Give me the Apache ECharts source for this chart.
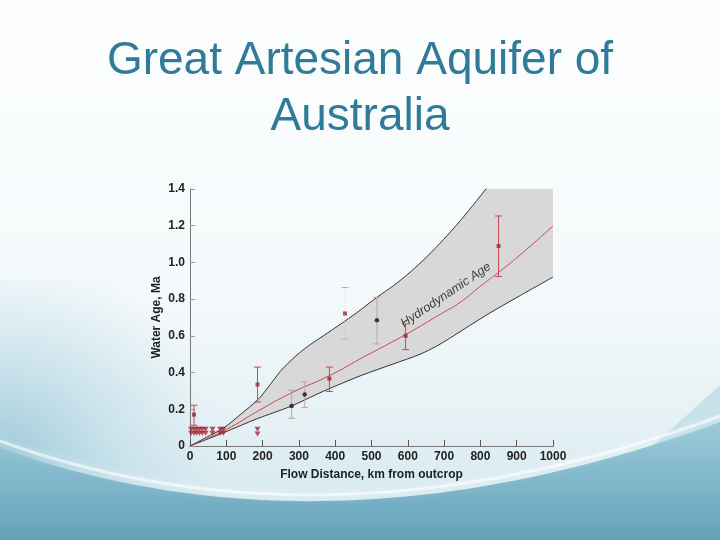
<!DOCTYPE html>
<html><head><meta charset="utf-8">
<script src="https://cdn.jsdelivr.net/npm/echarts@6/dist/echarts.min.js"></script>
<style>html,body{margin:0;padding:0;background:#fff;}#c{width:720px;height:540px;}</style>
</head><body><div id="c"></div>
<script>
// ---- data ----
const titleText = 'Great Artesian Aquifer of\nAustralia';
const xName = 'Flow Distance, km from outcrop';
const yName = 'Water Age, Ma';
const xTickLabels = ['0','100','200','300','400','500','600','700','800','900','1000'];
const yTickLabels = ['0','0.2','0.4','0.6','0.8','1.0','1.2','1.4'];
const bandLabel = 'Hydrodynamic Age';
const bandLabelPos = [705, 0.822];

// envelope (upper and lower bounds) and hydrodynamic age curve
const upperX = [0, 46, 92, 138, 188, 220, 248, 276, 303, 331, 367, 414, 460, 515, 561, 607, 653, 698, 744, 790, 815, 850];
const upperY = [0, 0.048, 0.097, 0.17, 0.254, 0.332, 0.405, 0.462, 0.51, 0.552, 0.60, 0.663, 0.727, 0.81, 0.874, 0.948, 1.032, 1.124, 1.226, 1.337, 1.40, 1.48];
const lowerX = [0, 92, 184, 276, 367, 470, 560, 634, 680, 726, 818, 910, 1000];
const lowerY = [0, 0.072, 0.148, 0.215, 0.298, 0.383, 0.447, 0.50, 0.545, 0.60, 0.715, 0.82, 0.92];
const ageX = [0, 100, 186, 280, 384, 470, 593, 700, 744, 800, 846, 900, 1000];
const ageY = [0, 0.09, 0.189, 0.29, 0.383, 0.476, 0.606, 0.73, 0.782, 0.87, 0.94, 1.025, 1.198];

// measured ages (red = one method, black = another)
const redX = [11, 186, 384, 427, 594, 850];
const redY = [0.171, 0.335, 0.367, 0.722, 0.600, 1.089];
const redErrX = [11, 186, 384, 594, 850];
const redErrLo = [0.113, 0.240, 0.297, 0.525, 0.923];
const redErrHi = [0.222, 0.430, 0.430, 0.665, 1.253];
const faintErrX = [427];
const faintErrLo = [0.582];
const faintErrHi = [0.863];
const blackX = [280, 316, 515];
const blackY = [0.218, 0.280, 0.685];
const greyErrX = [280];
const greyErrLo = [0.151];
const greyErrHi = [0.304];
const pinkErrX = [316, 515];
const pinkErrLo = [0.209, 0.556];
const pinkErrHi = [0.349, 0.810];

// upper-limit markers near the recharge area
const limitX = [3, 11, 18, 26, 34, 43, 62, 83, 92, 186];
const limitTopY = [0.091, 0.091, 0.091, 0.091, 0.091, 0.091, 0.091, 0.091, 0.091, 0.091];
const limitBotY = [0.069, 0.069, 0.069, 0.069, 0.069, 0.069, 0.069, 0.069, 0.069, 0.066];

// ---- build ----
const zip = (a, b) => a.map((v, i) => [v, b[i]]);
const zip3 = (a, b, c) => a.map((v, i) => [v, b[i], c[i]]);
const FONT = '"Liberation Sans", Arial, sans-serif';

// decorative slide background helper: sample a quadratic curve
function quad(p0, c, p1, n) {
  const pts = [];
  for (let i = 0; i <= n; i++) {
    const t = i / n, u = 1 - t;
    pts.push([u*u*p0[0] + 2*u*t*c[0] + t*t*p1[0], u*u*p0[1] + 2*u*t*c[1] + t*t*p1[1]]);
  }
  return pts;
}

function errRender(params, api) {
  const x = api.value(0), lo = api.value(1), hi = api.value(2);
  const p1 = api.coord([x, lo]), p2 = api.coord([x, hi]);
  const c = api.visual('color');
  const w = 3.5;
  return { type: 'group', children: [
    { type: 'line', shape: { x1: p1[0], y1: p1[1], x2: p2[0], y2: p2[1] }, style: { stroke: c, lineWidth: 1 } },
    { type: 'line', shape: { x1: p1[0]-w, y1: p1[1], x2: p1[0]+w, y2: p1[1] }, style: { stroke: c, lineWidth: 1 } },
    { type: 'line', shape: { x1: p2[0]-w, y1: p2[1], x2: p2[0]+w, y2: p2[1] }, style: { stroke: c, lineWidth: 1 } }
  ]};
}
function faintRender(params, api) {
  const x = api.value(0), lo = api.value(1), hi = api.value(2);
  const p1 = api.coord([x, lo]), p2 = api.coord([x, hi]);
  const w = 3.5;
  return { type: 'group', children: [
    { type: 'line', shape: { x1: p1[0], y1: p1[1], x2: p2[0], y2: p2[1] }, style: { stroke: 'rgba(200,150,160,0.15)', lineWidth: 1 } },
    { type: 'line', shape: { x1: p1[0]-w, y1: p1[1], x2: p1[0]+w, y2: p1[1] }, style: { stroke: '#c4b4b7', lineWidth: 1 } },
    { type: 'line', shape: { x1: p2[0]-w, y1: p2[1], x2: p2[0]+w, y2: p2[1] }, style: { stroke: '#c9a3a9', lineWidth: 1 } }
  ]};
}
function bandRender(params, api) {
  const up = upperX.map((x, i) => api.coord([x, upperY[i]]));
  const lastUp = upperY[upperY.length - 1];
  up.push(api.coord([lowerX[lowerX.length - 1], lastUp]));
  const low = lowerX.map((x, i) => api.coord([x, lowerY[i]])).reverse();
  let pts = up.concat(low);
  const cs = params.coordSys;
  pts = pts.map(p => [Math.min(Math.max(p[0], cs.x), cs.x + cs.width), Math.min(Math.max(p[1], cs.y), cs.y + cs.height)]);
  return { type: 'polygon', shape: { points: pts }, style: { fill: '#d8d8d8' } };
}

const rightShade = quad([540, 540], [650, 450], [720, 385], 30).concat([[720, 540]]);
const bottomWave = quad([0, 448], [330, 566], [720, 422], 60).concat([[720, 540], [0, 540]]);
const crest = quad([0, 441], [330, 560], [720, 416], 60);

const chart = echarts.init(document.getElementById('c'), null, { renderer: 'canvas' });
chart.setOption({
  animation: false,
  backgroundColor: {
    type: 'linear', x: 0, y: 0, x2: 0, y2: 1,
    colorStops: [
      { offset: 0, color: '#fdfefe' }, { offset: 0.55, color: '#f4f9fb' },
      { offset: 0.78, color: '#e5f1f5' }, { offset: 1, color: '#cfe5ed' }
    ]
  },
  graphic: [
    { type: 'rect', z: -10, silent: true, shape: { x: 0, y: 280, width: 460, height: 260 },
      style: { fill: { type: 'radial', x: 0, y: 0.72, r: 0.85, colorStops: [
        { offset: 0, color: 'rgba(140,192,210,0.85)' }, { offset: 0.5, color: 'rgba(160,204,220,0.4)' },
        { offset: 1, color: 'rgba(180,215,228,0)' }] } } },
    { type: 'polygon', z: -10, silent: true, shape: { points: rightShade },
      style: { fill: 'rgba(160,205,220,0.45)' } },
    { type: 'polygon', z: -9, silent: true, shape: { points: bottomWave },
      style: { fill: { type: 'linear', x: 0, y: 0, x2: 0, y2: 1, colorStops: [
        { offset: 0, color: '#9ccad9' }, { offset: 0.5, color: '#80b7cb' }, { offset: 1, color: '#64a2ba' }] } } },
    { type: 'polyline', z: -8, silent: true, shape: { points: crest },
      style: { stroke: 'rgba(255,255,255,0.6)', lineWidth: 3, shadowBlur: 8, shadowColor: 'rgba(255,255,255,0.8)' } }
  ],
  title: {
    text: titleText, left: 'center', top: 28,
    textStyle: { fontFamily: FONT, fontSize: 46, fontWeight: 'normal', color: '#2f7b99', lineHeight: 56 }
  },
  grid: { left: 190, right: 167, top: 189, bottom: 94, containLabel: false },
  xAxis: [
    { type: 'value', min: 0, max: 1000, interval: 100,
      name: xName, nameLocation: 'middle', nameGap: 23, nameMoveOverlap: false,
      nameTextStyle: { fontFamily: FONT, fontSize: 12, fontWeight: 'bold', color: '#222' },
      axisLine: { show: true, lineStyle: { color: '#555', width: 1 } },
      axisTick: { show: true, inside: true, length: 6, lineStyle: { color: '#555' } },
      axisLabel: { fontFamily: FONT, fontSize: 12, fontWeight: 'bold', color: '#222', margin: 5,
        formatter: v => xTickLabels[Math.round(v / 100)] },
      splitLine: { show: false } },
    { type: 'value', position: 'top', min: 0, max: 1000,
      axisLine: { show: true, lineStyle: { color: '#777', width: 1 } },
      axisTick: { show: false }, axisLabel: { show: false }, splitLine: { show: false } }
  ],
  yAxis: [
    { type: 'value', min: 0, max: 1.4, interval: 0.2,
      name: yName, nameLocation: 'middle', nameGap: 27, nameRotate: 90, nameMoveOverlap: false,
      nameTextStyle: { fontFamily: FONT, fontSize: 12, fontWeight: 'bold', color: '#222' },
      axisLine: { show: true, lineStyle: { color: '#bbb', width: 1 } },
      axisTick: { show: true, inside: true, length: 5, lineStyle: { color: '#999' } },
      axisLabel: { fontFamily: FONT, fontSize: 12, fontWeight: 'bold', color: '#222', margin: 5,
        formatter: v => yTickLabels[Math.round(v / 0.2)] },
      splitLine: { show: false } },
    { type: 'value', position: 'right', min: 0, max: 1.4,
      axisLine: { show: true, lineStyle: { color: '#777', width: 1 } },
      axisTick: { show: false }, axisLabel: { show: false }, splitLine: { show: false } }
  ],
  series: [
    { type: 'custom', name: 'band', renderItem: bandRender, data: [[0, 0]], z: 1, silent: true },
    { type: 'line', data: zip(upperX, upperY), smooth: 0.3, symbol: 'none', clip: true,
      lineStyle: { color: '#333', width: 1 }, z: 3 },
    { type: 'line', data: zip(lowerX, lowerY), smooth: 0.3, symbol: 'none', clip: true,
      lineStyle: { color: '#333', width: 1 }, z: 3 },
    { type: 'line', data: zip(ageX, ageY), smooth: 0.5, symbol: 'none', clip: true,
      lineStyle: { color: '#c44a55', width: 1 }, z: 3 },
    { type: 'custom', renderItem: errRender, data: zip3(redErrX, redErrLo, redErrHi), itemStyle: { color: '#c24a56' }, z: 4 },
    { type: 'custom', renderItem: faintRender, data: zip3(faintErrX, faintErrLo, faintErrHi), z: 4 },
    { type: 'custom', renderItem: errRender, data: zip3(greyErrX, greyErrLo, greyErrHi), itemStyle: { color: '#aaaaaa' }, z: 4 },
    { type: 'custom', renderItem: errRender, data: zip3(pinkErrX, pinkErrLo, pinkErrHi), itemStyle: { color: '#c9a2a8' }, z: 4 },
    { type: 'scatter', data: zip(redX, redY), symbol: 'rect', symbolSize: 4, itemStyle: { color: '#a8222e' }, z: 5 },
    { type: 'scatter', data: zip(blackX, blackY), symbol: 'circle', symbolSize: 4.5, itemStyle: { color: '#111' }, z: 5 },
    { type: 'scatter', data: zip(limitX, limitTopY), symbol: 'triangle', symbolRotate: 180, symbolSize: [6, 5], itemStyle: { color: '#a82632' }, z: 5 },
    { type: 'scatter', data: zip(limitX, limitBotY), symbol: 'triangle', symbolRotate: 180, symbolSize: [6, 5], itemStyle: { color: '#a82632' }, z: 5 },
    { type: 'scatter', data: [bandLabelPos], symbolSize: 0, z: 6,
      label: { show: true, position: 'inside', formatter: bandLabel, rotate: 34,
        fontFamily: FONT, fontSize: 12.5, fontStyle: 'italic', color: '#111' } }
  ]
});
</script>
</body></html>
